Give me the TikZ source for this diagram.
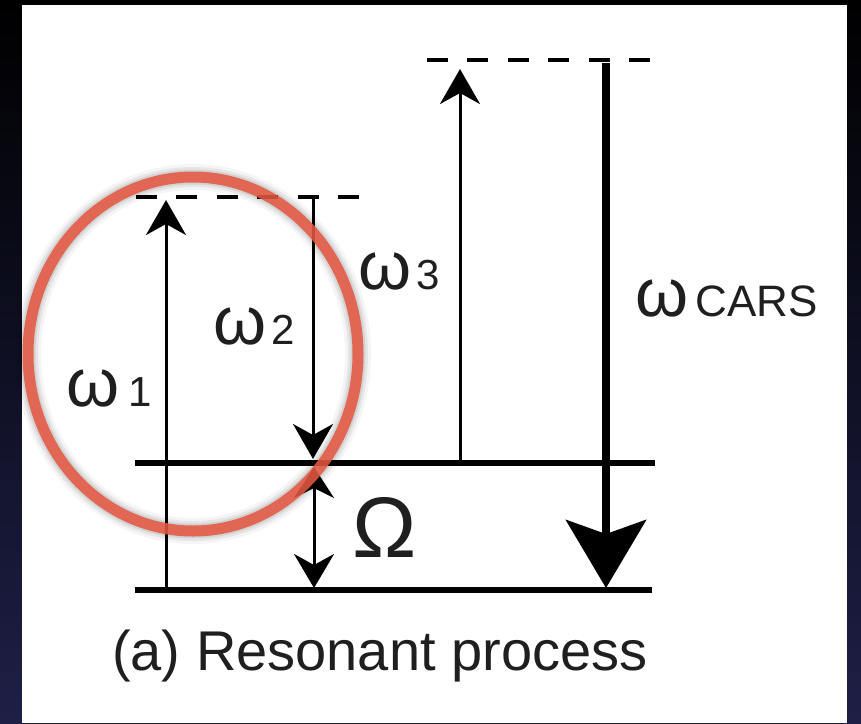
\documentclass[tikz,border=0pt]{standalone}
\usepackage{fontspec}
\setmainfont{Liberation Sans}
\usetikzlibrary{arrows.meta}
\definecolor{navybg}{RGB}{30,31,70}
\definecolor{ringred}{RGB}{228,88,66}
\newcommand{\omlab}[2]{{\fontsize{68}{68}\selectfont ω}\hspace{#2pt}{\fontsize{42}{42}\selectfont #1}}
\tikzset{
  level/.style={line width=6pt},
  virt/.style={line width=4pt, dash pattern=on 21pt off 19.4pt},
  thin arrow/.style={line width=3pt, -{Stealth[length=35pt,width=40pt,inset=11pt]}},
  omega arrow/.style={line width=3pt, {Stealth[length=31pt,width=40pt,inset=10pt]}-{Stealth[length=34pt,width=40pt,inset=11pt]}},
  big arrow/.style={line width=8pt, -{Stealth[length=68pt,width=80pt,inset=14pt]}},
  lab/.style={inner sep=0pt, anchor=base west, text=black!88}
}
\begin{document}
\begin{tikzpicture}[x=1pt,y=-1pt]
\useasboundingbox (0,0) rectangle (861,723);
\shade[top color=black, bottom color=navybg] (0,0) rectangle (861,723);
\fill[white] (22,5) rectangle (847,723);

% levels
\coordinate (g0) at (135,590); \coordinate (g1) at (652,590);
\coordinate (v0) at (135,463); \coordinate (v1) at (655,463);
\coordinate (d0) at (136,197); \coordinate (d1) at (360,197);
\coordinate (e0) at (427,60);  \coordinate (e1) at (651,60);
\draw[level] (g0) -- (g1);
\draw[level] (v0) -- (v1);
\draw[virt] (d0) -- (d1);
\draw[virt] (e0) -- (e1);

% arrows
\coordinate (a1s) at (166,590); \coordinate (a1e) at (166,200);
\coordinate (a2s) at (313,199); \coordinate (a2e) at (313,459);
\coordinate (oms) at (314,467); \coordinate (ome) at (314,588);
\coordinate (a3s) at (460,461); \coordinate (a3e) at (460,69);
\coordinate (acs) at (606,63);  \coordinate (ace) at (606,588);
\draw[thin arrow] (a1s) -- (a1e);
\draw[thin arrow] (a2s) -- (a2e);
\draw[omega arrow] (oms) -- (ome);
\draw[thin arrow] (a3s) -- (a3e);
\draw[big arrow] (acs) -- (ace);

% labels
\node[lab] (l1) at (66,406) {\omlab{1}{9}};
\node[lab] (l2) at (213,344) {\omlab{2}{5}};
\node[lab] (l3) at (358,289) {\omlab{3}{5}};
\node[lab] (lc) at (635,316) {{\fontsize{68}{68}\selectfont ω}\hspace{7pt}{\fontsize{44}{44}\selectfont CARS}};
\node[lab] (lo) at (352,557) {\fontsize{86}{86}\selectfont Ω};
\node[lab] (cap) at (112,670) {\fontsize{56}{56}\selectfont (a) Resonant process};

% red ring with soft shadow
\coordinate (rc) at (193,354);
\foreach \w/\o in {26/0.04,20/0.06,15/0.08}
  \draw[black, opacity=\o, line width=\w pt] (rc) ellipse [x radius=165, y radius=177];
\draw[ringred, opacity=0.88, line width=11pt] (rc) ellipse [x radius=165, y radius=177];
\end{tikzpicture}
\end{document}
